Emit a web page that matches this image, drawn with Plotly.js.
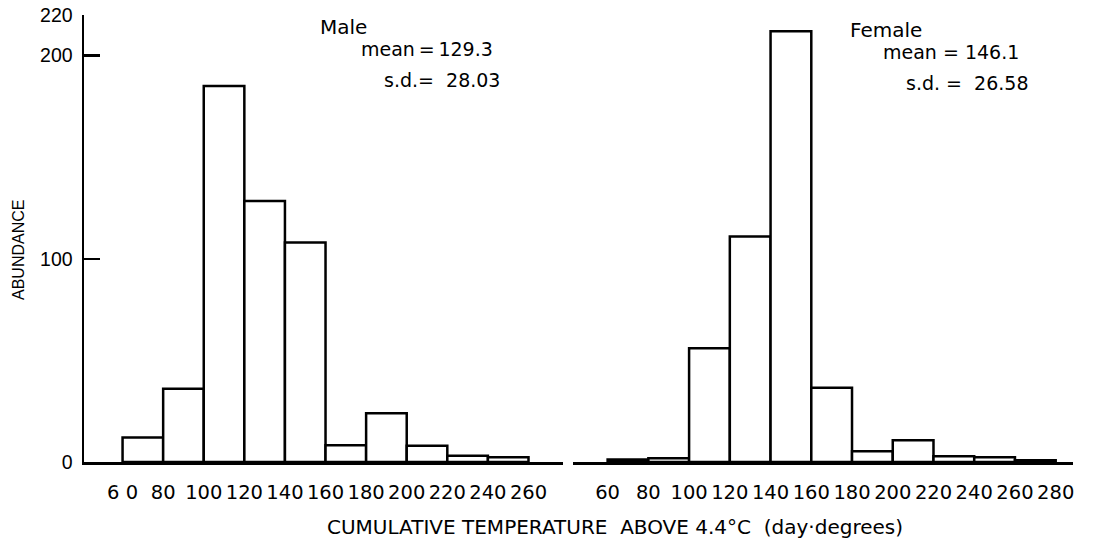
<!DOCTYPE html>
<html>
<head>
<meta charset="utf-8">
<script src="https://cdn.plot.ly/plotly-3.0.1.min.js"></script>
<style>html,body{margin:0;padding:0;background:#fff;}#chart{width:1098px;height:545px;}</style>
</head>
<body>
<div id="chart"></div>
<script>
// Bin left edges (day-degrees), bin width 20
var maleBinStarts = [60, 80, 100, 120, 140, 160, 180, 200, 220, 240];
var maleCounts    = [12, 36, 185, 128.5, 108, 8.2, 24, 8, 3.1, 2.3];
var femaleBinStarts = [60, 80, 100, 120, 140, 160, 180, 200, 220, 240, 260];
var femaleCounts    = [1.2, 1.8, 56, 111, 212, 36.5, 5.3, 10.7, 2.8, 2.3, 0.8];
var binWidth = 20;

var maleTickVals = [60, 80, 100, 120, 140, 160, 180, 200, 220, 240, 260];
var maleTickText = ["6 0", "80", "100", "120", "140", "160", "180", "200", "220", "240", "260"];
var femaleTickVals = [60, 80, 100, 120, 140, 160, 180, 200, 220, 240, 260, 280];
var femaleTickText = ["60", "80", "100", "120", "140", "160", "180", "200", "220", "240", "260", "280"];
var yTickVals = [0, 100, 200, 220];
var yTickText = ["0", "100", "200", "220"];

var maleLabels = ["Male", "mean\u2009=\u2009129.3", "s.d.=\u00a0\u00a028.03"];
var femaleLabels = ["Female", "mean = 146.1", "s.d. =\u00a0\u00a026.58"];
var xTitle = "CUMULATIVE TEMPERATURE \u00a0ABOVE 4.4\u00b0C \u00a0(day\u00b7degrees)";
var yTitle = "ABUNDANCE";

var roundFont = "DejaVu Sans, sans-serif";
var helvFont = "Liberation Sans, Arial, sans-serif";

var barStyle = {color: "#ffffff", line: {color: "#000000", width: 2.5}};

var traces = [
  {type: "bar", x: maleBinStarts, y: maleCounts, width: binWidth, offset: 0,
   marker: barStyle, xaxis: "x", yaxis: "y", hoverinfo: "x+y"},
  {type: "bar", x: femaleBinStarts, y: femaleCounts, width: binWidth, offset: 0,
   marker: barStyle, xaxis: "x2", yaxis: "y", hoverinfo: "x+y"}
];

var W = 1098, H = 545, L = 84, R = 25, T = 15, B = 83;
var pw = W - L - R, ph = H - T - B;
function px(x) { return (x - L) / pw; }
function py(y) { return (H - B - y) / ph; }

function ann(text, x, y, size, fam, extra) {
  var a = {text: text, x: px(x), y: py(y), xref: "paper", yref: "paper",
    xanchor: "left", yanchor: "middle", showarrow: false,
    font: {family: fam, size: size, color: "#000"}};
  for (var k in extra) a[k] = extra[k];
  return a;
}

var annotations = [
  ann(maleLabels[0], 318, 27, 20, roundFont),
  ann(maleLabels[1], 359, 49, 19, roundFont),
  ann(maleLabels[2], 382, 80, 19, roundFont),
  ann(femaleLabels[0], 848, 30, 20, roundFont),
  ann(femaleLabels[1], 881, 52, 19, roundFont),
  ann(femaleLabels[2], 904, 83, 19, roundFont),
  ann(xTitle, 615, 527, 20, roundFont, {xanchor: "center"}),
  ann(yTitle, 19, 250, 16, helvFont, {xanchor: "center", textangle: -90})
];

var xCommon = {
  showgrid: false, zeroline: false, showline: true, linecolor: "#000", linewidth: 2.5,
  ticks: "", ticklabelstandoff: 11, tickfont: {family: roundFont, size: 19.5, color: "#000"},
  fixedrange: true, anchor: "y"
};

var layout = {
  width: W, height: H,
  margin: {l: L, r: R, t: T, b: B, pad: 0},
  paper_bgcolor: "#fff", plot_bgcolor: "#fff",
  showlegend: false, bargap: 0,
  xaxis: Object.assign({}, xCommon, {domain: [0, px(563)], range: [41, 277],
    tickmode: "array", tickvals: maleTickVals, ticktext: maleTickText}),
  xaxis2: Object.assign({}, xCommon, {domain: [px(573), 1], range: [43, 288.5],
    tickmode: "array", tickvals: femaleTickVals, ticktext: femaleTickText}),
  yaxis: {range: [0, 220], showgrid: false, zeroline: false, showline: true,
    linecolor: "#000", linewidth: 2.5, ticks: "inside", ticklen: 16, tickwidth: 2.5,
    tickcolor: "#000", tickmode: "array", tickvals: yTickVals, ticktext: yTickText,
    ticklabelstandoff: 5,
    tickfont: {family: helvFont, size: 19.5, color: "#000"}, fixedrange: true, anchor: "x"},
  annotations: annotations
};

Plotly.newPlot("chart", traces, layout, {displayModeBar: false, staticPlot: true});
</script>
</body>
</html>
